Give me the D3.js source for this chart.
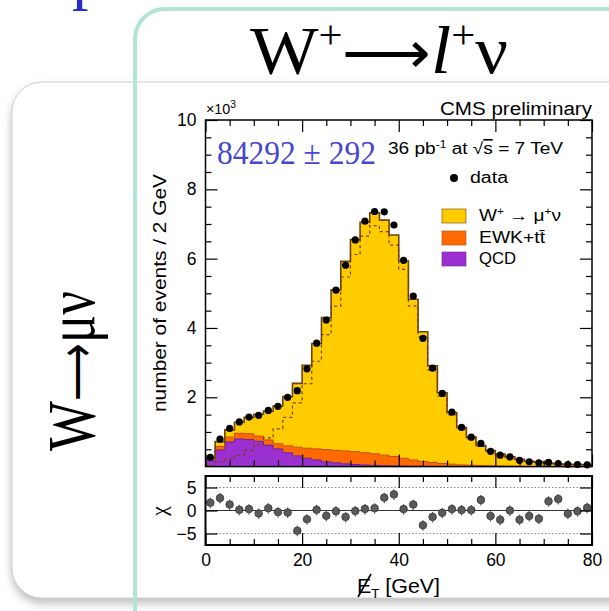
<!DOCTYPE html>
<html>
<head>
<meta charset="utf-8">
<script src="https://cdn.jsdelivr.net/npm/d3@7"></script>
<style>
body { margin: 0; background: #fff; }
svg { display: block; }
</style>
</head>
<body>
<div id="chart"></div>
<script>
// bins of missing ET (GeV, lower edge), 2 GeV wide
var binLow = [0, 2, 4, 6, 8, 10, 12, 14, 16, 18, 20, 22, 24, 26, 28, 30, 32, 34, 36, 38,
	40, 42, 44, 46, 48, 50, 52, 54, 56, 58, 60, 62, 64, 66, 68, 70, 72, 74, 76, 78];

// events / 2 GeV, in units of 10^3
var dataEvents = [0.27, 0.79, 1.10, 1.29, 1.43, 1.48, 1.62, 1.74, 2.00, 2.19, 2.82, 3.56, 4.23, 5.09, 5.81, 6.54, 7.08, 7.36, 7.35, 6.97,
	5.95, 4.92, 3.70, 2.84, 2.11, 1.57, 1.13, 0.85, 0.67, 0.44, 0.33, 0.28, 0.18, 0.14, 0.11, 0.12, 0.09, 0.06, 0.06, 0.05];
var qcd = [0.17, 0.48, 0.71, 0.80, 0.78, 0.73, 0.62, 0.51, 0.40, 0.31, 0.24, 0.19, 0.14, 0.11, 0.08, 0.06, 0.045, 0.035, 0.025, 0.02,
	0.015, 0.012, 0.01, 0.008, 0.006, 0.005, 0.004, 0.003, 0.002, 0.002, 0.001, 0.001, 0.001, 0.001, 0.001, 0, 0, 0, 0, 0];
var ewk = [0.05, 0.10, 0.14, 0.16, 0.17, 0.15, 0.15, 0.15, 0.20, 0.25, 0.29, 0.32, 0.35, 0.36, 0.37, 0.37, 0.355, 0.335, 0.305, 0.27,
	0.225, 0.178, 0.14, 0.112, 0.084, 0.065, 0.046, 0.037, 0.028, 0.023, 0.019, 0.014, 0.011, 0.009, 0.007, 0.006, 0.005, 0.004, 0.003, 0.003];
var wsig = [0.03, 0.14, 0.21, 0.32, 0.47, 0.63, 0.83, 1.09, 1.42, 1.84, 2.39, 3.04, 3.81, 4.63, 5.47, 6.12, 6.65, 6.95, 6.78, 6.39,
	5.69, 4.64, 3.74, 2.79, 2.04, 1.49, 1.08, 0.81, 0.58, 0.44, 0.345, 0.265, 0.198, 0.145, 0.122, 0.094, 0.07, 0.061, 0.057, 0.047];
var chi = [1.7, 2.7, 1.3, 0.15, 0.3, -0.65, 0.5, -0.35, -0.45, -4.4, -1.9, 0.15, -1.15, -0.15, -1.4, -0.1, 0.35, 0.5, 2.8, 3.5,
	0.3, 1.3, -3.2, -1.4, -0.5, 0.3, 0.1, 0.1, 2.3, -1.2, -2.0, 0, -2.0, -1.2, -1.8, 2.0, 2.5, -0.7, -0.15, 0.6];

var yTicks = [2, 4, 6, 8, 10];
var xTicks = [0, 20, 40, 60, 80];
var chiTicks = [-5, 0, 5];

var width = 609, height = 611;
var sans = '"Liberation Sans", Arial, sans-serif';
var serif = '"Liberation Serif", "Times New Roman", serif';

var svg = d3.select('#chart')
	.append('svg')
	.attr('width', width)
	.attr('height', height)
	.style('background-color', '#fff');

var defs = svg.append('defs');
var shadow = defs.append('filter').attr('id', 'shadow')
	.attr('x', '-10%').attr('y', '-10%').attr('width', '130%').attr('height', '130%');
shadow.append('feDropShadow')
	.attr('dx', 0).attr('dy', 5).attr('stdDeviation', 4)
	.attr('flood-color', '#888').attr('flood-opacity', 0.55);
var glow = defs.append('filter').attr('id', 'glow');
glow.append('feGaussianBlur').attr('stdDeviation', 0.6);

// slide decoration
svg.append('text')
	.attr('x', 72).attr('y', -3)
	.style('font-family', serif).style('font-size', '66px')
	.style('fill', '#2a2ac8')
	.style('filter', 'url(#glow)')
	.text('p');

svg.append('rect')
	.attr('x', 12).attr('y', 82)
	.attr('width', 700).attr('height', 516)
	.attr('rx', 30)
	.style('fill', '#fff')
	.style('stroke', '#cfcfcf')
	.style('filter', 'url(#shadow)');

svg.append('rect')
	.attr('x', 135).attr('y', 9)
	.attr('width', 700).attr('height', 800)
	.attr('rx', 30)
	.style('fill', 'none')
	.style('stroke', '#b4e4d3')
	.style('stroke-width', 4);

var title = svg.append('text')
	.attr('x', 250).attr('y', 73)
	.attr('textLength', 258)
	.attr('lengthAdjust', 'spacingAndGlyphs')
	.style('font-family', serif).style('font-size', '68px');
title.append('tspan').text('W');
title.append('tspan').attr('dy', -25).style('font-size', '40px').text('+');
title.append('tspan').attr('dy', 25).style('font-size', '58px').text('\u27f6');
title.append('tspan').style('font-style', 'italic').text('l');
title.append('tspan').attr('dy', -25).style('font-size', '40px').text('+');
title.append('tspan').attr('dy', 25).text('\u03bd');

var side = svg.append('text')
	.attr('transform', 'translate(94,371) rotate(-90)')
	.attr('x', -80)
	.attr('textLength', 160)
	.attr('lengthAdjust', 'spacingAndGlyphs')
	.style('font-family', serif).style('font-size', '68px');
side.append('tspan').text('W');
side.append('tspan').style('font-size', '52px').text('\u27f6');
side.append('tspan').text('\u03bc\u03bd');

// scales
var x = d3.scaleLinear().domain([0, 80]).range([205.5, 592]);
var y = d3.scaleLinear().domain([0, 10]).range([466.6, 120]);
var yc = d3.scaleLinear().domain([-7.5, 7.5]).range([545, 476]);

var plot = svg.append('g');

// stacked histogram
var rows = binLow.map(function(b, i) {
	return { x: b, qcd: qcd[i], ewk: ewk[i], w: wsig[i] };
});
var layers = d3.stack().keys(['qcd', 'ewk', 'w'])(rows);
var fills = { qcd: '#9a30d0', ewk: '#ff6a00', w: '#ffcc00' };
var edges = { qcd: '#6a2090', ewk: '#c04a00', w: '#70420c' };

function stepPoints(layer) {
	var pts = layer.map(function(d, i) {
		return { x: binLow[i], y0: d[0], y1: d[1] };
	});
	var last = pts[pts.length - 1];
	pts.push({ x: 80, y0: last.y0, y1: last.y1 });
	return pts;
}

var area = d3.area()
	.curve(d3.curveStepAfter)
	.x(function(d) { return x(d.x); })
	.y0(function(d) { return y(d.y0); })
	.y1(function(d) { return y(d.y1); });

var topLine = d3.line()
	.curve(d3.curveStepAfter)
	.x(function(d) { return x(d.x); })
	.y(function(d) { return y(d.y1); });

layers.forEach(function(layer) {
	plot.append('path')
		.datum(stepPoints(layer))
		.attr('d', area)
		.style('fill', fills[layer.key]);
});
layers.forEach(function(layer) {
	plot.append('path')
		.datum(stepPoints(layer))
		.attr('d', topLine)
		.style('fill', 'none')
		.style('stroke', edges[layer.key])
		.style('stroke-width', layer.key === 'w' ? 1.6 : 1);
});

// W signal alone, dashed
var sigPts = binLow.map(function(b, i) { return { x: b, y1: wsig[i] }; });
sigPts.push({ x: 80, y1: wsig[wsig.length - 1] });
plot.append('path')
	.datum(sigPts)
	.attr('d', topLine)
	.style('fill', 'none')
	.style('stroke', '#7a3e08')
	.style('stroke-width', 1.2)
	.style('stroke-dasharray', '3,3');

// data points
plot.selectAll('.dot').data(dataEvents)
	.enter().append('circle')
	.attr('class', 'dot')
	.attr('cx', function(d, i) { return x(binLow[i] + 1); })
	.attr('cy', function(d) { return y(d); })
	.attr('r', 3.6)
	.style('fill', '#000');

// frames and axes
function styleAxis(g, labels) {
	g.select('.domain').remove();
	g.selectAll('line').style('stroke', '#000').style('stroke-width', 1.2);
	g.selectAll('text')
		.style('font-family', sans)
		.style('font-size', '17.5px')
		.style('fill', '#000')
		.style('display', labels ? null : 'none');
}

function addAxis(axis, tx, ty, labels) {
	var g = svg.append('g').attr('transform', 'translate(' + tx + ',' + ty + ')').call(axis);
	styleAxis(g, labels);
	return g;
}

var minorY = [0.5, 1, 1.5, 2.5, 3, 3.5, 4.5, 5, 5.5, 6.5, 7, 7.5, 8.5, 9, 9.5];
var minorX = [5, 10, 15, 25, 30, 35, 45, 50, 55, 65, 70, 75];

// main panel
addAxis(d3.axisLeft(y).tickValues(yTicks).tickSize(-12).tickPadding(9).tickFormat(d3.format('d')), x(0), 0, true);
addAxis(d3.axisLeft(y).tickValues(minorY).tickSize(-6).tickFormat(''), x(0), 0, false);
addAxis(d3.axisRight(y).tickValues(yTicks).tickSize(-12).tickFormat(''), x(80), 0, false);
addAxis(d3.axisRight(y).tickValues(minorY).tickSize(-6).tickFormat(''), x(80), 0, false);
addAxis(d3.axisTop(x).tickValues(xTicks).tickSize(-12).tickFormat(''), 0, y(10), false);
addAxis(d3.axisTop(x).tickValues(minorX).tickSize(-6).tickFormat(''), 0, y(10), false);
addAxis(d3.axisBottom(x).tickValues(xTicks).tickSize(-12).tickFormat(''), 0, y(0), false);
addAxis(d3.axisBottom(x).tickValues(minorX).tickSize(-6).tickFormat(''), 0, y(0), false);

svg.append('rect')
	.attr('x', x(0)).attr('y', y(10))
	.attr('width', x(80) - x(0)).attr('height', y(0) - y(10))
	.style('fill', 'none').style('stroke', '#000').style('stroke-width', 1.5);

// lower panel (chi)
var lower = svg.append('g');
lower.selectAll('.ref').data(chiTicks)
	.enter().append('line')
	.attr('x1', x(0)).attr('x2', x(80))
	.attr('y1', function(d) { return yc(d); })
	.attr('y2', function(d) { return yc(d); })
	.style('stroke', function(d) { return d === 0 ? '#333' : '#888'; })
	.style('stroke-width', function(d) { return d === 0 ? 1.2 : 1; })
	.style('stroke-dasharray', function(d) { return d === 0 ? null : '1.5,2'; });

lower.selectAll('.err').data(chi)
	.enter().append('line')
	.attr('x1', function(d, i) { return x(binLow[i] + 1); })
	.attr('x2', function(d, i) { return x(binLow[i] + 1); })
	.attr('y1', function(d) { return yc(d - 1.2); })
	.attr('y2', function(d) { return yc(d + 1.2); })
	.style('stroke', '#555')
	.style('stroke-width', 1.2)
	.style('stroke-dasharray', '1.5,1.5');

lower.selectAll('.chi').data(chi)
	.enter().append('circle')
	.attr('cx', function(d, i) { return x(binLow[i] + 1); })
	.attr('cy', function(d) { return yc(d); })
	.attr('r', 3.8)
	.style('fill', '#5a5a5a')
	.style('stroke', '#333')
	.style('stroke-width', 0.8);

addAxis(d3.axisLeft(yc).tickValues(chiTicks).tickSize(-12).tickPadding(9), x(0), 0, true);
addAxis(d3.axisRight(yc).tickValues(chiTicks).tickSize(-12).tickFormat(''), x(80), 0, false);
addAxis(d3.axisTop(x).tickValues(xTicks).tickSize(-12).tickFormat(''), 0, yc(7.5), false);
addAxis(d3.axisTop(x).tickValues(minorX).tickSize(-6).tickFormat(''), 0, yc(7.5), false);
addAxis(d3.axisBottom(x).tickValues(xTicks).tickSize(-12).tickPadding(9), 0, yc(-7.5), true);
addAxis(d3.axisBottom(x).tickValues(minorX).tickSize(-6).tickFormat(''), 0, yc(-7.5), false);

svg.append('rect')
	.attr('x', x(0)).attr('y', yc(7.5))
	.attr('width', x(80) - x(0)).attr('height', yc(-7.5) - yc(7.5))
	.style('fill', 'none').style('stroke', '#000').style('stroke-width', 2);

// texts
function label(px, py, size, len) {
	var t = svg.append('text')
		.attr('x', px).attr('y', py)
		.style('font-family', sans).style('font-size', size + 'px');
	if (len) t.attr('textLength', len).attr('lengthAdjust', 'spacingAndGlyphs');
	return t;
}

var exp = label(206, 114, 14, 30);
exp.append('tspan').text('\u00d710');
exp.append('tspan').attr('dy', -6).style('font-size', '10px').text('3');

label(440, 115, 18, 152).text('CMS preliminary');

svg.append('text')
	.attr('x', 217).attr('y', 164)
	.attr('textLength', 159)
	.attr('lengthAdjust', 'spacingAndGlyphs')
	.style('font-family', serif).style('font-size', '34px')
	.style('fill', '#4646d2')
	.text('84292 \u00b1 292');

var lumi = label(388, 154, 16, 175);
lumi.append('tspan').text('36 pb');
lumi.append('tspan').attr('dy', -6).style('font-size', '10px').text('-1');
lumi.append('tspan').attr('dy', 6).text('  at \u221a');
lumi.append('tspan').style('text-decoration', 'overline').text('s');
lumi.append('tspan').text(' = 7 TeV');

svg.append('text')
	.attr('transform', 'translate(166,293) rotate(-90)')
	.attr('x', -119)
	.attr('textLength', 238)
	.attr('lengthAdjust', 'spacingAndGlyphs')
	.style('font-family', sans).style('font-size', '18.5px')
	.text('number of events / 2 GeV');

svg.append('text')
	.attr('transform', 'translate(166,511) rotate(-90)')
	.attr('text-anchor', 'middle')
	.style('font-family', serif).style('font-size', '22px')
	.text('\u03c7');

var xt = label(357, 593, 21, 83);
xt.append('tspan').text('E');
xt.append('tspan').attr('dy', 5).style('font-size', '13px').text('T');
xt.append('tspan').attr('dy', -5).text(' [GeV]');
svg.append('line')
	.attr('x1', 358).attr('y1', 597)
	.attr('x2', 371).attr('y2', 574)
	.style('stroke', '#000').style('stroke-width', 1.6);

// legend
var legend = svg.append('g');
legend.append('circle').attr('cx', 454).attr('cy', 178).attr('r', 4).style('fill', '#000');
label(470, 183, 16, 38).text('data');

var legItems = [
	{ key: 'w', y: 209 },
	{ key: 'ewk', y: 231 },
	{ key: 'qcd', y: 252 }
];
legend.selectAll('.box').data(legItems)
	.enter().append('rect')
	.attr('x', 442).attr('y', function(d) { return d.y; })
	.attr('width', 24).attr('height', 14)
	.style('fill', function(d) { return fills[d.key]; })
	.style('stroke', function(d) { return edges[d.key]; })
	.style('stroke-width', 0.6);

var lw = label(479, 221, 16, 82);
lw.append('tspan').text('W');
lw.append('tspan').attr('dy', -6).style('font-size', '10px').text('+');
lw.append('tspan').attr('dy', 6).text(' \u2192 \u03bc');
lw.append('tspan').attr('dy', -6).style('font-size', '10px').text('+');
lw.append('tspan').attr('dy', 6).text('\u03bd');

label(479, 243, 16, 66).text('EWK+tt\u0304');
label(479, 264, 16, 37).text('QCD');
</script>
</body>
</html>
